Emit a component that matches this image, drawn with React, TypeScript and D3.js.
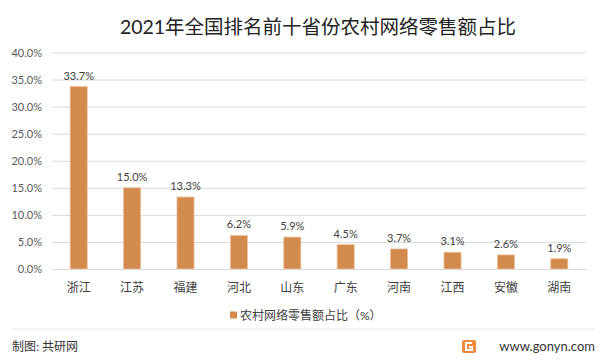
import React, { useEffect, useRef } from 'react'
import * as d3 from 'd3'

// data
const provinces = ['浙江', '江苏', '福建', '河北', '山东', '广东', '河南', '江西', '安徽', '湖南']
const shares = [33.7, 15.0, 13.3, 6.2, 5.9, 4.5, 3.7, 3.1, 2.6, 1.9]
const yTicks = [0, 5, 10, 15, 20, 25, 30, 35, 40]

const title = '2021年全国排名前十省份农村网络零售额占比'
const seriesName = '农村网络零售额占比（%）'

const W = 602
const H = 361
const FONT = "Lato, 'Noto Sans CJK SC', sans-serif"

export default function App() {
  const ref = useRef<SVGSVGElement>(null)

  useEffect(() => {
    const svg = d3.select(ref.current)
    svg.selectAll('*').remove()

    svg.append('rect').attr('width', W).attr('height', H).attr('fill', '#fff')

    const x = d3.scaleBand().domain(provinces).range([52, 586]).paddingInner(0.68).paddingOuter(0.34)
    const y = d3.scaleLinear().domain([0, 40]).range([269, 52.5])

    // title
    svg.append('text')
      .attr('x', 318).attr('y', 34)
      .attr('text-anchor', 'middle')
      .attr('font-family', FONT)
      .attr('font-size', 19.5)
      .attr('fill', '#222')
      .text(title)

    // grid + y axis
    const yAxis = d3.axisLeft(y).tickValues(yTicks).tickSize(-(586 - 52)).tickFormat(d => (+d).toFixed(1) + '%')
    const ga = svg.append('g').attr('transform', 'translate(52,0)').call(yAxis)
    ga.select('.domain').remove()
    ga.selectAll('.tick line').attr('stroke', '#d9d9d9')
    ga.selectAll('.tick text')
      .attr('x', -10)
      .attr('font-family', FONT)
      .attr('font-size', 11)
      .attr('fill', '#595959')

    // bars
    svg.append('g').selectAll('rect')
      .data(shares)
      .enter()
      .append('rect')
      .attr('x', (d, i) => x(provinces[i])!)
      .attr('y', d => y(d))
      .attr('width', x.bandwidth())
      .attr('height', d => y(0) - y(d))
      .attr('fill', '#d38b4d')
      .attr('stroke', '#efc39b')
      .attr('stroke-width', 0.8)

    // value labels
    svg.append('g').selectAll('text')
      .data(shares)
      .enter()
      .append('text')
      .attr('x', (d, i) => x(provinces[i])! + x.bandwidth() / 2)
      .attr('y', d => y(d) - 7)
      .attr('text-anchor', 'middle')
      .attr('font-family', FONT)
      .attr('font-size', 11)
      .attr('fill', '#404040')
      .text(d => d.toFixed(1) + '%')

    // category labels
    const xAxis = d3.axisBottom(x).tickSize(0).tickPadding(14)
    const gx = svg.append('g').attr('transform', 'translate(0,269)').call(xAxis)
    gx.select('.domain').attr('stroke', '#d9d9d9')
    gx.selectAll('.tick text')
      .attr('font-family', FONT)
      .attr('font-size', 12)
      .attr('fill', '#404040')

    // legend
    svg.append('rect').attr('x', 230).attr('y', 311.5).attr('width', 7).attr('height', 7).attr('fill', '#d38b4d')
    svg.append('text')
      .attr('x', 240).attr('y', 320)
      .attr('font-family', FONT)
      .attr('font-size', 12)
      .attr('fill', '#404040')
      .text(seriesName)

    // footer
    svg.append('line').attr('x1', 12).attr('x2', 595).attr('y1', 329).attr('y2', 329).attr('stroke', '#e6e6e6')
    svg.append('text')
      .attr('x', 12).attr('y', 351)
      .attr('font-family', FONT)
      .attr('font-size', 12)
      .attr('fill', '#333')
      .text('制图: 共研网')

    const logo = svg.append('g').attr('transform', 'translate(462,340)')
    logo.append('rect').attr('width', 14).attr('height', 13).attr('rx', 2).attr('fill', '#f08a3c')
    logo.append('path').attr('d', 'M10,3 H4 V10 H10 V7 H7').attr('fill', 'none').attr('stroke', '#fff').attr('stroke-width', 2)
    svg.append('text')
      .attr('x', 595).attr('y', 351)
      .attr('text-anchor', 'end')
      .attr('font-family', FONT)
      .attr('font-size', 13)
      .attr('fill', '#333')
      .text('www.gonyn.com')
  }, [])

  return (
    <svg ref={ref} width={W} height={H} style={{ display: 'block', position: 'absolute', left: 0, top: 0 }} />
  )
}
